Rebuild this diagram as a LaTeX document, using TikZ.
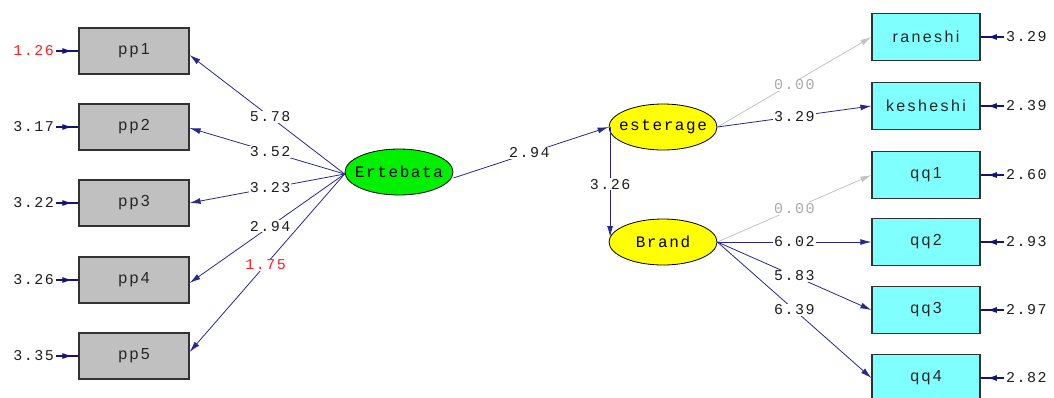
\documentclass[tikz,border=0pt]{standalone}
\usepackage{fontspec}
\setmainfont{Liberation Sans}
\newfontfamily\lismono[LetterSpace=10]{Liberation Mono}
\newfontfamily\lissans[LetterSpace=15]{Liberation Sans}
\usetikzlibrary{arrows.meta,shapes.geometric,decorations.markings}

\definecolor{obsgrey}{RGB}{192,192,192}
\definecolor{obscyan}{RGB}{128,255,255}
\definecolor{latgreen}{RGB}{0,240,0}
\definecolor{latyellow}{RGB}{255,255,0}
\definecolor{boxedge}{RGB}{50,50,50}
\definecolor{pathblue}{RGB}{40,40,140}
\definecolor{errblue}{RGB}{20,20,120}
\definecolor{fixgrey}{RGB}{195,195,195}
\definecolor{fixtext}{RGB}{170,170,170}
\definecolor{coeftext}{RGB}{30,30,30}
\definecolor{alertred}{RGB}{255,30,30}

\begin{document}
\begin{tikzpicture}[x=1pt,y=-1pt,
  obs/.style={draw=boxedge, line width=1.2pt, minimum width=110pt, minimum height=46pt,
    inner sep=0pt, font=\lissans\fontsize{16}{16}\selectfont, text=black!85},
  latent/.style={ellipse, draw=black, line width=0.8pt, minimum width=108pt,
    minimum height=46pt, inner xsep=-10pt, inner ysep=0pt,
    font=\lismono\fontsize{16}{16}\selectfont},
  pathline/.style={draw=pathblue, line width=0.8pt, -{Latex[length=11pt,width=6pt]}},
  fixline/.style={draw=fixgrey, line width=0.8pt, -{Latex[length=11pt,width=6pt]}},
  coef/.style={fill=white, inner sep=1pt, font=\lismono\fontsize{15}{15}\selectfont, text=coeftext},
  fixcoef/.style={coef, text=fixtext},
  errlabel/.style={inner sep=0pt, font=\lismono\fontsize{15}{15}\selectfont, text=coeftext},
  errline/.style={draw=errblue, line width=1.2pt, shorten <=2pt,
    decoration={markings, mark=at position 0.75 with {\arrow{Latex[length=10pt,width=6pt]}}},
    postaction={decorate}},
]
\useasboundingbox (0,0) rectangle (1054,397);

% observed indicators of Ertebata
\node[obs, fill=obsgrey] (pp1) at (134,51)  {pp1};
\node[obs, fill=obsgrey] (pp2) at (134,127) {pp2};
\node[obs, fill=obsgrey] (pp3) at (134,203) {pp3};
\node[obs, fill=obsgrey] (pp4) at (134,280) {pp4};
\node[obs, fill=obsgrey] (pp5) at (134,356) {pp5};

% latent variables
\node[latent, fill=latgreen]  (ert)   at (399,172) {Ertebata};
\node[latent, fill=latyellow] (est)   at (663,127) {esterage};
\node[latent, fill=latyellow] (brand) at (663,242) {Brand};

% observed indicators on the right
\node[obs, fill=obscyan, minimum width=108pt, minimum height=47pt] (ran) at (926,37)  {raneshi};
\node[obs, fill=obscyan, minimum width=108pt, minimum height=47pt] (kes) at (926,106) {kesheshi};
\node[obs, fill=obscyan, minimum width=108pt, minimum height=47pt] (qq1) at (926,175) {qq1};
\node[obs, fill=obscyan, minimum width=108pt, minimum height=47pt] (qq2) at (926,242) {qq2};
\node[obs, fill=obscyan, minimum width=108pt, minimum height=47pt] (qq3) at (926,310) {qq3};
\node[obs, fill=obscyan, minimum width=108pt, minimum height=47pt] (qq4) at (926,378) {qq4};

% error variances, left
\node[errlabel, anchor=east, text=alertred] (e1) at (54,51)  {1.26};
\node[errlabel, anchor=east] (e2) at (54,127) {3.17};
\node[errlabel, anchor=east] (e3) at (54,203) {3.22};
\node[errlabel, anchor=east] (e4) at (54,280) {3.26};
\node[errlabel, anchor=east] (e5) at (54,356) {3.35};
\foreach \e/\v in {e1/pp1,e2/pp2,e3/pp3,e4/pp4,e5/pp5}
  \draw[errline] (\e.east) -- (\v.west);

% error variances, right
\node[errlabel, anchor=west] (r1) at (1006,37)  {3.29};
\node[errlabel, anchor=west] (r2) at (1006,106) {2.39};
\node[errlabel, anchor=west] (r3) at (1006,175) {2.60};
\node[errlabel, anchor=west] (r4) at (1006,242) {2.93};
\node[errlabel, anchor=west] (r5) at (1006,310) {2.97};
\node[errlabel, anchor=west] (r6) at (1006,378) {2.82};
\foreach \e/\v in {r1/ran,r2/kes,r3/qq1,r4/qq2,r5/qq3,r6/qq4}
  \draw[errline] (\e.west) -- (\v.east);

% loadings of Ertebata
\draw[pathline] ([yshift=-2pt]ert.west) -- node[coef,pos=0.48] {5.78} ([yshift=-4pt]pp1.east);
\draw[pathline] ([yshift=-2pt]ert.west) -- node[coef,pos=0.48] {3.52} ([yshift=-1pt]pp2.east);
\draw[pathline] ([yshift=-2pt]ert.west) -- node[coef,pos=0.48] {3.23} (pp3.east);
\draw[pathline] ([yshift=-2pt]ert.west) -- node[coef,pos=0.48] {2.94} ([yshift=-3pt]pp4.east);
\draw[pathline] ([yshift=-2pt]ert.west) -- node[coef,pos=0.51,text=alertred] {1.75} ([yshift=4pt]pp5.east);

% structural paths
\draw[pathline] ([yshift=-6pt]ert.east) -- node[coef,pos=0.49] {2.94} (est.west);
\draw[pathline] ([xshift=1.5pt]est.west) -- node[coef,pos=0.52] {3.26} ([xshift=1.5pt,yshift=5pt]brand.west);

% loadings of esterage
\draw[fixline]  (est.east) -- node[fixcoef,pos=0.5,yshift=-3pt] {0.00} (ran.west);
\draw[pathline] (est.east) -- node[coef,pos=0.5] {3.29} (kes.west);

% loadings of Brand
\draw[fixline]  (brand.east) -- node[fixcoef,pos=0.5] {0.00} (qq1.west);
\draw[pathline] (brand.east) -- node[coef,pos=0.5] {6.02} (qq2.west);
\draw[pathline] (brand.east) -- node[coef,pos=0.5] {5.83} (qq3.west);
\draw[pathline] (brand.east) -- node[coef,pos=0.5] {6.39} (qq4.west);
\end{tikzpicture}
\end{document}
